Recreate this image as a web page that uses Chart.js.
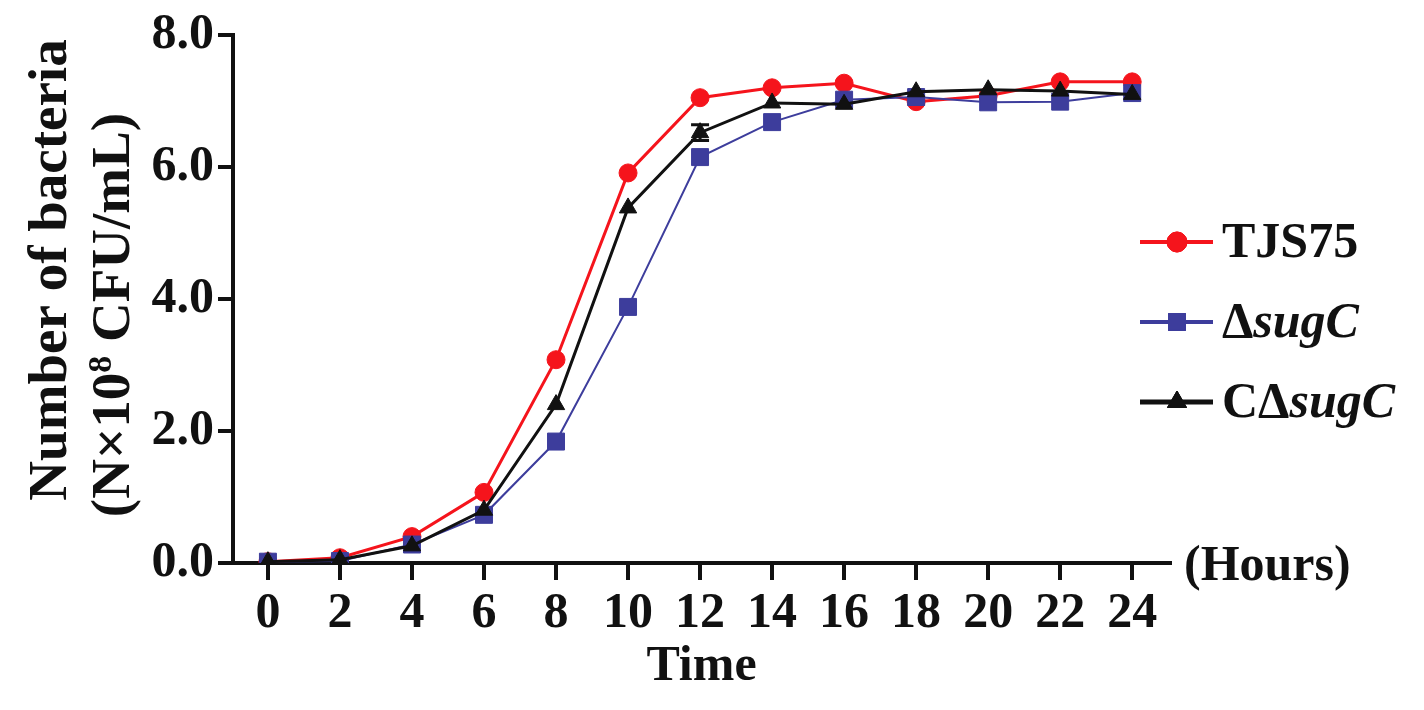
<!DOCTYPE html>
<html><head><meta charset="utf-8">
<script src="https://cdn.jsdelivr.net/npm/chart.js@4.4.1/dist/chart.umd.min.js"></script>
<style>html,body{margin:0;padding:0;background:#fff;}#wrap{width:1424px;height:710px;position:relative;}</style>
</head><body><div id="wrap"><canvas id="c" width="1424" height="710"></canvas></div>
<script>
const hours = [0, 2, 4, 6, 8, 10, 12, 14, 16, 18, 20, 22, 24];
const tjs75 = [0.02, 0.08, 0.40, 1.07, 3.08, 5.91, 7.05, 7.20, 7.27, 6.99, 7.08, 7.29, 7.29];
const dsugC = [0.02, 0.03, 0.28, 0.73, 1.84, 3.88, 6.15, 6.68, 7.02, 7.06, 6.98, 6.99, 7.12];
const cdsugC = [0.02, 0.05, 0.26, 0.80, 2.40, 5.38, 6.52, 6.97, 6.95, 7.14, 7.17, 7.15, 7.10];
const cdsugCErr = [0, 0, 0, 0, 0, 0, 0.12, 0, 0, 0, 0, 0, 0];
const yTicks = [0, 2, 4, 6, 8];
const seriesNames = ['TJS75', 'ΔsugC', 'CΔsugC'];
const xTitle = 'Time';
const xUnit = '(Hours)';
const yTitle1 = 'Number of bacteria';

const RED = '#f5141c', BLUE = '#3d3d9c', BLACK = '#111111';
const SERIF = '"Liberation Serif", "Times New Roman", serif';
const FS = 50;
const YT = 55;

function pts(arr){ return hours.map((h,i)=>({x:h, y:arr[i]})); }

const extras = {
  id: 'extras',
  afterDatasetsDraw(chart){
    const ctx = chart.ctx, xs = chart.scales.x, ys = chart.scales.y;
    ctx.save();
    ctx.strokeStyle = BLACK; ctx.lineWidth = 3;
    cdsugCErr.forEach((e,i)=>{
      if(!e) return;
      const x = xs.getPixelForValue(hours[i]);
      const y1 = ys.getPixelForValue(cdsugC[i]+e), y2 = ys.getPixelForValue(cdsugC[i]-e);
      ctx.beginPath();
      ctx.moveTo(x, y1); ctx.lineTo(x, y2);
      ctx.moveTo(x-9, y1); ctx.lineTo(x+9, y1);
      ctx.moveTo(x-9, y2); ctx.lineTo(x+9, y2);
      ctx.stroke();
    });
    ctx.restore();
  },
  afterDraw(chart){
    const ctx = chart.ctx, ca = chart.chartArea;
    ctx.save();
    ctx.fillStyle = BLACK;
    ctx.font = `bold ${FS}px ${SERIF}`;
    ctx.textAlign = 'left'; ctx.textBaseline = 'middle';
    ctx.fillText(xUnit, ca.right + 14, ca.bottom + 4);
    // y title
    ctx.save();
    ctx.translate(52, 270);
    ctx.rotate(-Math.PI/2);
    ctx.textAlign = 'center'; ctx.textBaseline = 'middle';
    ctx.font = `bold ${YT}px ${SERIF}`;
    ctx.fillText(yTitle1, 0, 0);
    ctx.restore();
    ctx.save();
    ctx.translate(115, 315);
    ctx.rotate(-Math.PI/2);
    ctx.textBaseline = 'middle';
    const partsY = [
      {t:'(N×10', f:`bold ${YT}px ${SERIF}`, dy:0},
      {t:'8', f:`bold 34px ${SERIF}`, dy:-13},
      {t:' CFU/mL)', f:`bold ${YT}px ${SERIF}`, dy:0}
    ];
    let tw = 0;
    partsY.forEach(p=>{ ctx.font = p.f; tw += ctx.measureText(p.t).width; });
    let cx = -tw/2;
    ctx.textAlign = 'left';
    partsY.forEach(p=>{ ctx.font = p.f; ctx.fillText(p.t, cx, p.dy); cx += ctx.measureText(p.t).width; });
    ctx.restore();
    // legend
    const rows = [
      {y:242, color:RED, style:'circle', r:10, lw:4, parts:[{t:'TJS75', it:false}]},
      {y:322, color:BLUE, style:'rect', r:12, lw:4, parts:[{t:'Δ', it:false},{t:'sugC', it:true}]},
      {y:402, color:BLACK, style:'triangle', r:11, lw:5, parts:[{t:'CΔ', it:false},{t:'sugC', it:true}]}
    ];
    rows.forEach((row)=>{
      ctx.strokeStyle = row.color; ctx.lineWidth = row.lw;
      ctx.beginPath(); ctx.moveTo(1140, row.y); ctx.lineTo(1213, row.y); ctx.stroke();
      ctx.fillStyle = row.color; ctx.lineWidth = 1;
      Chart.helpers.drawPoint(ctx, {pointStyle: row.style, radius: row.r, rotation: 0, borderWidth: 1}, 1177, row.y);
      ctx.fill(); ctx.stroke();
      let x = 1222;
      ctx.fillStyle = BLACK; ctx.textAlign = 'left'; ctx.textBaseline = 'middle';
      row.parts.forEach(p=>{
        ctx.font = `${p.it ? 'italic ' : ''}bold ${FS}px ${SERIF}`;
        ctx.fillText(p.t, x, row.y + 2);
        x += ctx.measureText(p.t).width;
      });
    });
    ctx.restore();
  }
};

new Chart(document.getElementById('c'), {
  type: 'line',
  data: {
    datasets: [
      {label: seriesNames[0], data: pts(tjs75), borderColor: RED, backgroundColor: RED, borderWidth: 3,
       pointStyle: 'circle', pointRadius: 9, pointBorderWidth: 1, order: 3},
      {label: seriesNames[1], data: pts(dsugC), borderColor: BLUE, backgroundColor: BLUE, borderWidth: 2,
       pointStyle: 'rect', pointRadius: 12, pointBorderWidth: 1, order: 2},
      {label: seriesNames[2], data: pts(cdsugC), borderColor: BLACK, backgroundColor: BLACK, borderWidth: 3,
       pointStyle: 'triangle', pointRadius: 10, pointBorderWidth: 1, order: 1}
    ]
  },
  options: {
    responsive: false, animation: false,
    layout: {padding: {left: 0, right: 254, top: 35, bottom: 0}},
    plugins: {legend: {display: false}, tooltip: {enabled: false}},
    elements: {line: {tension: 0}},
    scales: {
      x: {
        type: 'linear', min: -0.97, max: 25.05,
        afterBuildTicks: s => { s.ticks = hours.map(v => ({value: v})); },
        afterFit: s => { s.height = 147; },
        ticks: {color: BLACK, font: {family: SERIF, size: FS, weight: 'bold'}, padding: 4, maxRotation: 0, autoSkip: false,
                callback: v => String(v)},
        grid: {drawOnChartArea: false, tickLength: 17, lineWidth: 4, color: BLACK},
        border: {display: true, width: 4, color: BLACK},
        title: {display: true, text: xTitle, color: BLACK, font: {family: SERIF, size: FS, weight: 'bold'}, padding: {top: 0, bottom: 13}}
      },
      y: {
        min: 0, max: 8,
        afterBuildTicks: s => { s.ticks = yTicks.map(v => ({value: v})); },
        afterFit: s => { s.width = 233; },
        ticks: {color: BLACK, font: {family: SERIF, size: FS, weight: 'bold'}, padding: 4, callback: v => Number(v).toFixed(1)},
        grid: {drawOnChartArea: false, tickLength: 15, lineWidth: 4, color: BLACK},
        border: {display: true, width: 4, color: BLACK}
      }
    }
  },
  plugins: [extras]
});
</script></body></html>
